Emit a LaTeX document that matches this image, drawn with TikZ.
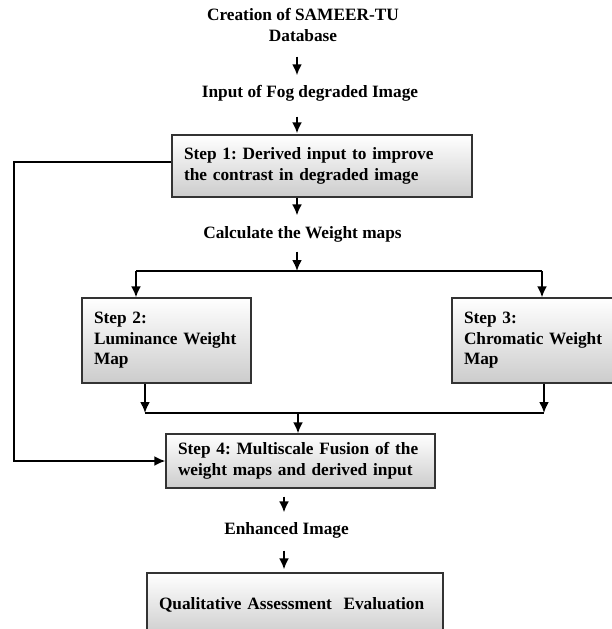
\documentclass[tikz,border=0pt]{standalone}
\usepackage{fontspec}
\setmainfont{Liberation Serif}
\usepackage{tikz}
\usetikzlibrary{arrows,arrows.meta,positioning,shadows}
\frenchspacing

\begin{document}
\begin{tikzpicture}[
    x=1pt, y=-1pt,
    stepbox/.style={rectangle, draw=black!80, line width=1.3pt,
                    top color=white, bottom color=black!20,
                    align=left, inner xsep=12pt, inner ysep=0pt,
                    font=\fontsize{17.3}{20.5}\selectfont\bfseries,
                    drop shadow={shadow xshift=1.3pt, shadow yshift=-1.3pt,
                                 opacity=0.45}},
    flowtext/.style={inner sep=0pt, align=center,
                     font=\fontsize{17.3}{20.5}\selectfont\bfseries},
    line/.style={draw, -{Latex[length=11pt,width=10pt]}, line width=2pt}
]
    \useasboundingbox (0,0) rectangle (611,629);

    \node [flowtext] (create) at (303,25) {Creation of SAMEER-TU\\Database};
    \node [flowtext] (input)  at (310,93.5) {Input of Fog degraded Image};
    \node [stepbox, minimum width=300pt, minimum height=62pt, text width=276pt]
          (step1) at (322,166) {Step 1: Derived input to improve\\the contrast in degraded image};
    \node [flowtext] (calc)   at (302.5,234.5) {Calculate the Weight maps};
    \node [stepbox, minimum width=169pt, minimum height=85pt, text width=145pt]
          (step2) at (166.5,340.5) {Step 2:\\Luminance Weight\\Map};
    \node [stepbox, minimum width=169pt, minimum height=85pt, text width=145pt]
          (step3) at (536.5,340.5) {Step 3:\\Chromatic Weight\\Map};
    \node [stepbox, minimum width=269pt, minimum height=54pt, text width=245pt]
          (step4) at (300.5,461) {Step 4: Multiscale Fusion of the\\weight maps and derived input};
    \node [flowtext] (enh)    at (286.5,530.5) {Enhanced Image};
    \node [stepbox, minimum width=296pt, minimum height=64pt, text width=272pt]
          (qual) at (295,605) {Qualitative Assessment~ Evaluation};

    \coordinate (spine)  at (297,0);
    \coordinate (spineB) at (284,0);
    \coordinate (brL) at (136,271);
    \coordinate (brR) at (542,271);
    \coordinate (mgL) at (145,413);
    \coordinate (mg)  at (298,413);
    \coordinate (mgR) at (544,413);
    \coordinate (fb)  at (14,300);

    % main column
    \path [line, shorten <=15pt, shorten >=10pt] (create.south -| spine) -- (input.north -| spine);
    \path [line, shorten <=15pt, shorten >=1pt]  (input.south -| spine) -- (step1.north -| spine);
    \path [line, shorten >=11pt] (step1.south -| spine) -- (calc.north -| spine);
    \path [line, shorten <=9pt] (calc.south -| spine) -- (spine |- brL);

    % split to the weight maps
    \draw [line width=2pt] (brL) -- (brR);
    \path [line] (brL) -- (brL |- step2.north);
    \path [line] (brR) -- (brR |- step3.north);

    % merge into the fusion step
    \path [line] (step2.south -| mgL) -- (mgL);
    \path [line] (step3.south -| mgR) -- (mgR);
    \draw [line width=2pt] (mgL) -- (mgR);
    \path [line] (mg) -- (mg |- step4.north);

    % derived input straight to fusion
    \path [line] ([yshift=4pt]step1.west) -| (fb) |- (step4.west);

    \path [line, shorten <=8pt, shorten >=10pt] (step4.south -| spineB) -- (enh.north -| spineB);
    \path [line, shorten <=12pt, shorten >=3pt]  (enh.south -| spineB) -- (qual.north -| spineB);
\end{tikzpicture}
\end{document}
